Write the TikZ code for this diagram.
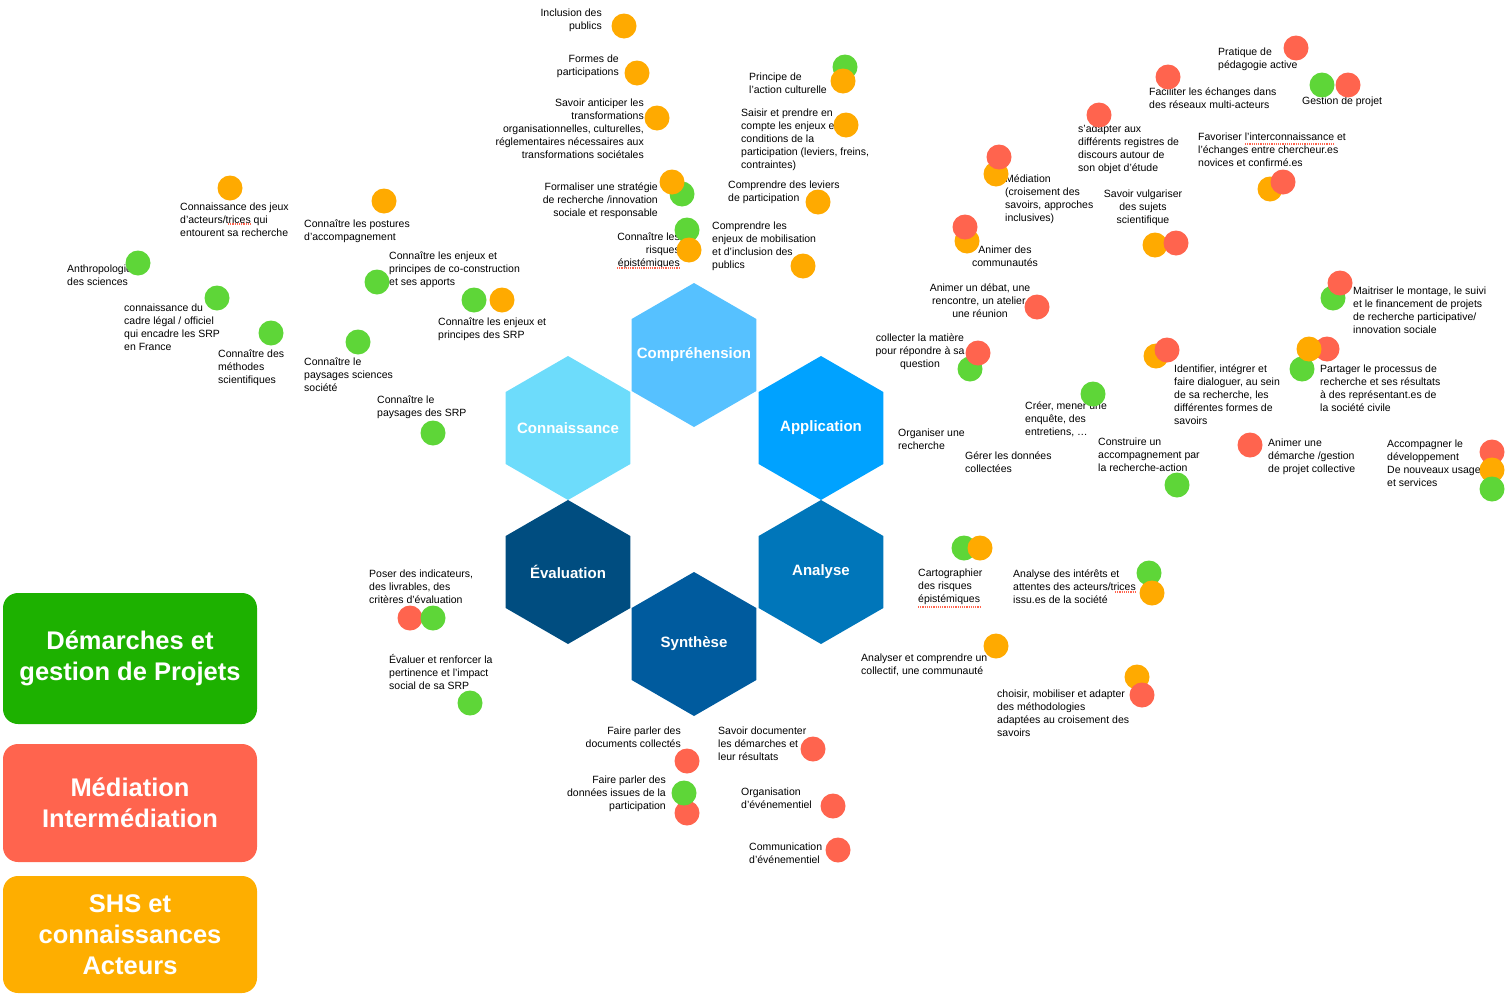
\documentclass[tikz,border=0pt]{standalone}
\usepackage{fontspec}
\setmainfont{Liberation Sans}
\usetikzlibrary{shapes.geometric}
\definecolor{hexcomp}{HTML}{56C1FF}
\definecolor{hexconn}{HTML}{6DDCFB}
\definecolor{hexappl}{HTML}{00A2FF}
\definecolor{hexanal}{HTML}{0076BA}
\definecolor{hexeval}{HTML}{004D80}
\definecolor{hexsynt}{HTML}{005B9E}
\definecolor{dotgreen}{HTML}{5ED638}
\definecolor{dotred}{HTML}{FF644E}
\definecolor{dotorange}{HTML}{FFAA00}
\definecolor{boxgreen}{HTML}{1DB100}
\definecolor{boxred}{HTML}{FF644E}
\definecolor{boxorange}{HTML}{FEAE00}

\begin{document}
\begin{tikzpicture}[x=1pt, y=-1pt,
                    hexagon/.style={regular polygon, regular polygon sides=6, shape border rotate=30, minimum size=144pt, inner sep=0pt,
                                    label={[text=white, font=\fontsize{15}{18}\selectfont\bfseries]center:#1}},
                    skill/.style={align=left, anchor=west, inner sep=0pt, font=\fontsize{10.5}{13}\selectfont},
                    skillright/.style={skill, align=right, anchor=east},
                    skillcenter/.style={skill, align=center, anchor=center},
                    dot/.style={circle, minimum size=25pt, inner sep=0pt},
                    gdot/.style={dot, fill=dotgreen},
                    rdot/.style={dot, fill=dotred},
                    odot/.style={dot, fill=dotorange},
                    spell/.style={dotred, densely dotted, line width=1.2pt},
                    legendbox/.style={rectangle, rounded corners=15pt, minimum width=254pt, text=white, align=center, font=\fontsize{25.5}{31}\selectfont\bfseries}]

    \useasboundingbox (0,0) rectangle (1508,996);

    % Hexagons
    \node[hexagon=Compréhension, fill=hexcomp] (comp) at (694,355) {};
    \node[hexagon=Connaissance, fill=hexconn] (conn) at (568,428) {};
    \node[hexagon=Application, fill=hexappl] (appl) at (821,428) {};
    \node[hexagon=Évaluation, fill=hexeval] (eval) at (568,572) {};
    \node[hexagon=Analyse, fill=hexanal] (anal) at (821,572) {};
    \node[hexagon=Synthèse, fill=hexsynt] (synt) at (694,644) {};

    % Compréhension
    \node[skillright] (inclusion) at (602,20) {Inclusion des\\publics};
    \node[odot] (inclusion-o) at (624,26) {};
    \node[skillright] (formes) at (619,66.5) {Formes de\\participations};
    \node[odot] (formes-o) at (637,73) {};
    \node[skillright] (anticiper) at (644,128.5) {Savoir anticiper les\\transformations\\organisationnelles, culturelles,\\réglementaires nécessaires aux\\transformations sociétales};
    \node[odot] (anticiper-o) at (657,118) {};
    \node[skillright] (formaliser) at (658,201) {Formaliser une stratégie\\de recherche /innovation\\sociale et responsable};
    \node[gdot] (formaliser-g) at (682,194) {};
    \node[odot] (formaliser-o) at (672,182) {};
    \node[skillright] (risques) at (680,251) {Connaître les\\risques\\épistémiques};
    \node[gdot] (risques-g) at (687,230) {};
    \node[odot] (risques-o) at (689,250) {};
    \node[skill] (principe) at (749,83.5) {Principe de\\l'action culturelle};
    \node[gdot] (principe-g) at (845,67) {};
    \node[odot] (principe-o) at (843,81) {};
    \node[skill] (saisir) at (741,140) {Saisir et prendre en\\compte les enjeux et\\conditions de la\\participation (leviers, freins,\\contraintes)};
    \node[odot] (saisir-o) at (846,125) {};
    \node[skill] (leviers) at (728,192.5) {Comprendre des leviers\\de participation};
    \node[odot] (leviers-o) at (818,202) {};
    \node[skill] (mobilisation) at (712,246) {Comprendre les\\enjeux de mobilisation\\et d'inclusion des\\publics};
    \node[odot] (mobilisation-o) at (803,266) {};

    % Connaissance
    \node[skill] (jeux) at (180,220) {Connaissance des jeux\\d'acteurs/trices qui\\entourent sa recherche};
    \node[odot] (jeux-o) at (230,188) {};
    \node[skill] (postures) at (304,231) {Connaître les postures\\d'accompagnement};
    \node[odot] (postures-o) at (384,201) {};
    \node[skill] (anthropo) at (67,275.5) {Anthropologie\\des sciences};
    \node[gdot] (anthropo-g) at (138,263) {};
    \node[skill] (cadre) at (124,327) {connaissance du\\cadre légal / officiel\\qui encadre les SRP\\en France};
    \node[gdot] (cadre-g) at (217,298) {};
    \node[skill] (methodes) at (218,368) {Connaître des\\méthodes\\scientifiques};
    \node[gdot] (methodes-g) at (271,333) {};
    \node[skill] (paysages) at (304,375) {Connaître le\\paysages sciences\\société};
    \node[gdot] (paysages-g) at (358,342) {};
    \node[skill] (coconstr) at (389,270) {Connaître les enjeux et\\principes de co-construction\\et ses apports};
    \node[gdot] (coconstr-g) at (377,282) {};
    \node[skill] (enjeuxsrp) at (438,329.5) {Connaître les enjeux et\\principes des SRP};
    \node[gdot] (enjeuxsrp-g) at (474,300) {};
    \node[odot] (enjeuxsrp-o) at (502,300) {};
    \node[skill] (paysagessrp) at (377,407.5) {Connaître le\\paysages des SRP};
    \node[gdot] (paysagessrp-g) at (433,433) {};

    % Application
    \node[skill] (pedagogie) at (1218,59) {Pratique de\\pédagogie active};
    \node[rdot] (pedagogie-r) at (1296,48) {};
    \node[skill] (faciliter) at (1149,98.5) {Faciliter les échanges dans\\des réseaux multi-acteurs};
    \node[rdot] (faciliter-r) at (1168,77) {};
    \node[skill] (gestion) at (1302,102) {Gestion de projet};
    \node[gdot] (gestion-g) at (1322,85) {};
    \node[rdot] (gestion-r) at (1348,85) {};
    \node[skill] (adapter) at (1078,149.5) {s'adapter aux\\différents registres de\\discours autour de\\son objet d'étude};
    \node[rdot] (adapter-r) at (1099,115) {};
    \node[skill] (favoriser) at (1198,150) {Favoriser l'interconnaissance et\\l'échanges entre chercheur.es\\novices et confirmé.es};
    \node[odot] (favoriser-o) at (1270,189) {};
    \node[rdot] (favoriser-r) at (1283,182) {};
    \node[skill] (mediation) at (1005,199.5) {Médiation\\(croisement des\\savoirs, approches\\inclusives)};
    \node[odot] (mediation-o) at (996,174) {};
    \node[rdot] (mediation-r) at (999,157) {};
    \node[skillcenter] (vulgariser) at (1143,208) {Savoir vulgariser\\des sujets\\scientifique};
    \node[odot] (vulgariser-o) at (1155,245) {};
    \node[rdot] (vulgariser-r) at (1176,243) {};
    \node[skillcenter] (communautes) at (1005,256.5) {Animer des\\communautés};
    \node[odot] (communautes-o) at (967,241) {};
    \node[rdot] (communautes-r) at (965,227) {};
    \node[skillcenter] (debat) at (980,300.5) {Animer un débat, une\\rencontre, un atelier,\\une réunion};
    \node[rdot] (debat-r) at (1037,307) {};
    \node[skillcenter] (collecter) at (920,352) {collecter la matière\\pour répondre à sa\\question};
    \node[gdot] (collecter-g) at (970,369) {};
    \node[rdot] (collecter-r) at (978,353) {};
    \node[skill] (organiser) at (898,439.5) {Organiser une\\recherche};
    \node[skill] (gerer) at (965,462.5) {Gérer les données\\collectées};
    \node[skill] (creer) at (1025,419) {Créer, mener une\\enquête, des\\entretiens, \dots};
    \node[gdot] (creer-g) at (1093,394) {};
    \node[skill] (construire) at (1098,455) {Construire un\\accompagnement par\\la recherche-action};
    \node[gdot] (construire-g) at (1177,485) {};
    \node[skill] (identifier) at (1174,394.5) {Identifier, intégrer et\\faire dialoguer, au sein\\de sa recherche, les\\différentes formes de\\savoirs};
    \node[odot] (identifier-o) at (1156,356) {};
    \node[rdot] (identifier-r) at (1167,350) {};
    \node[skill] (demarche) at (1268,457) {Animer une\\démarche /gestion\\de projet collective};
    \node[rdot] (demarche-r) at (1250,445) {};
    \node[skill] (maitriser) at (1353,310) {Maitriser le montage, le suivi\\et le financement de projets\\de recherche participative/\\innovation sociale};
    \node[gdot] (maitriser-g) at (1333,298) {};
    \node[rdot] (maitriser-r) at (1340,283) {};
    \node[skill] (partager) at (1320,388) {Partager le processus de\\recherche et ses résultats\\à des représentant.es de\\la société civile};
    \node[rdot] (partager-r) at (1327,349) {};
    \node[gdot] (partager-g) at (1302,369) {};
    \node[odot] (partager-o) at (1309,349) {};
    \node[skill] (accompagner) at (1387,463.5) {Accompagner le\\développement\\De nouveaux usages\\et services};
    \node[rdot] (accompagner-r) at (1492,452) {};
    \node[odot] (accompagner-o) at (1492,470) {};
    \node[gdot] (accompagner-g) at (1492,489) {};

    % Analyse
    \node[skill] (cartographier) at (918,586.5) {Cartographier\\des risques\\épistémiques};
    \node[gdot] (cartographier-g) at (964,548) {};
    \node[odot] (cartographier-o) at (980,548) {};
    \node[skill] (interets) at (1013,586.5) {Analyse des intérêts et\\attentes des acteurs/trices\\issu.es de la société};
    \node[gdot] (interets-g) at (1149,573) {};
    \node[odot] (interets-o) at (1152,593) {};
    \node[skill] (collectif) at (861,665) {Analyser et comprendre un\\collectif, une communauté};
    \node[odot] (collectif-o) at (996,646) {};
    \node[skill] (choisir) at (997,713.5) {choisir, mobiliser et adapter\\des méthodologies\\adaptées au croisement des\\savoirs};
    \node[odot] (choisir-o) at (1137,677) {};
    \node[rdot] (choisir-r) at (1142,695) {};

    % Évaluation et Synthèse
    \node[skill] (indicateurs) at (369,586.5) {Poser des indicateurs,\\des livrables, des\\critères d'évaluation};
    \node[rdot] (indicateurs-r) at (410,618) {};
    \node[gdot] (indicateurs-g) at (433,618) {};
    \node[skill] (evaluer) at (389,671.5) {Évaluer et renforcer la\\pertinence et l'impact\\social de sa SRP};
    \node[gdot] (evaluer-g) at (470,703) {};
    \node[skillright] (documents) at (681,737) {Faire parler des\\documents collectés};
    \node[rdot] (documents-r) at (687,761) {};
    \node[skillright] (donnees) at (666,794) {Faire parler des\\données issues de la\\participation};
    \node[rdot] (donnees-r) at (687,813) {};
    \node[gdot] (donnees-g) at (684,793) {};
    \node[skill] (documenter) at (718,743.5) {Savoir documenter\\les démarches et\\leur résultats};
    \node[rdot] (documenter-r) at (813,749) {};
    \node[skill] (organisation) at (741,798.5) {Organisation\\d'événementiel};
    \node[rdot] (organisation-r) at (833,806) {};
    \node[skill] (communication) at (749,853.5) {Communication\\d'événementiel};
    \node[rdot] (communication-r) at (838,850) {};

    % spell-check marks
    \draw[spell] (617,268) -- (679,268);
    \draw[spell] (228,224) -- (252,224);
    \draw[spell] (1245,144) -- (1335,144);
    \draw[spell] (918,607) -- (980,607);
    \draw[spell] (1115,592) -- (1137,592);

    % Legend
    \node[legendbox, fill=boxgreen, minimum height=131pt] (leg-proj) at (130,658.5) {Démarches et\\gestion de Projets};
    \node[legendbox, fill=boxred, minimum height=118pt] (leg-med) at (130,803) {Médiation\\Intermédiation};
    \node[legendbox, fill=boxorange, minimum height=117pt] (leg-shs) at (130,934.5) {SHS et\\connaissances\\Acteurs};

\end{tikzpicture}
\end{document}
